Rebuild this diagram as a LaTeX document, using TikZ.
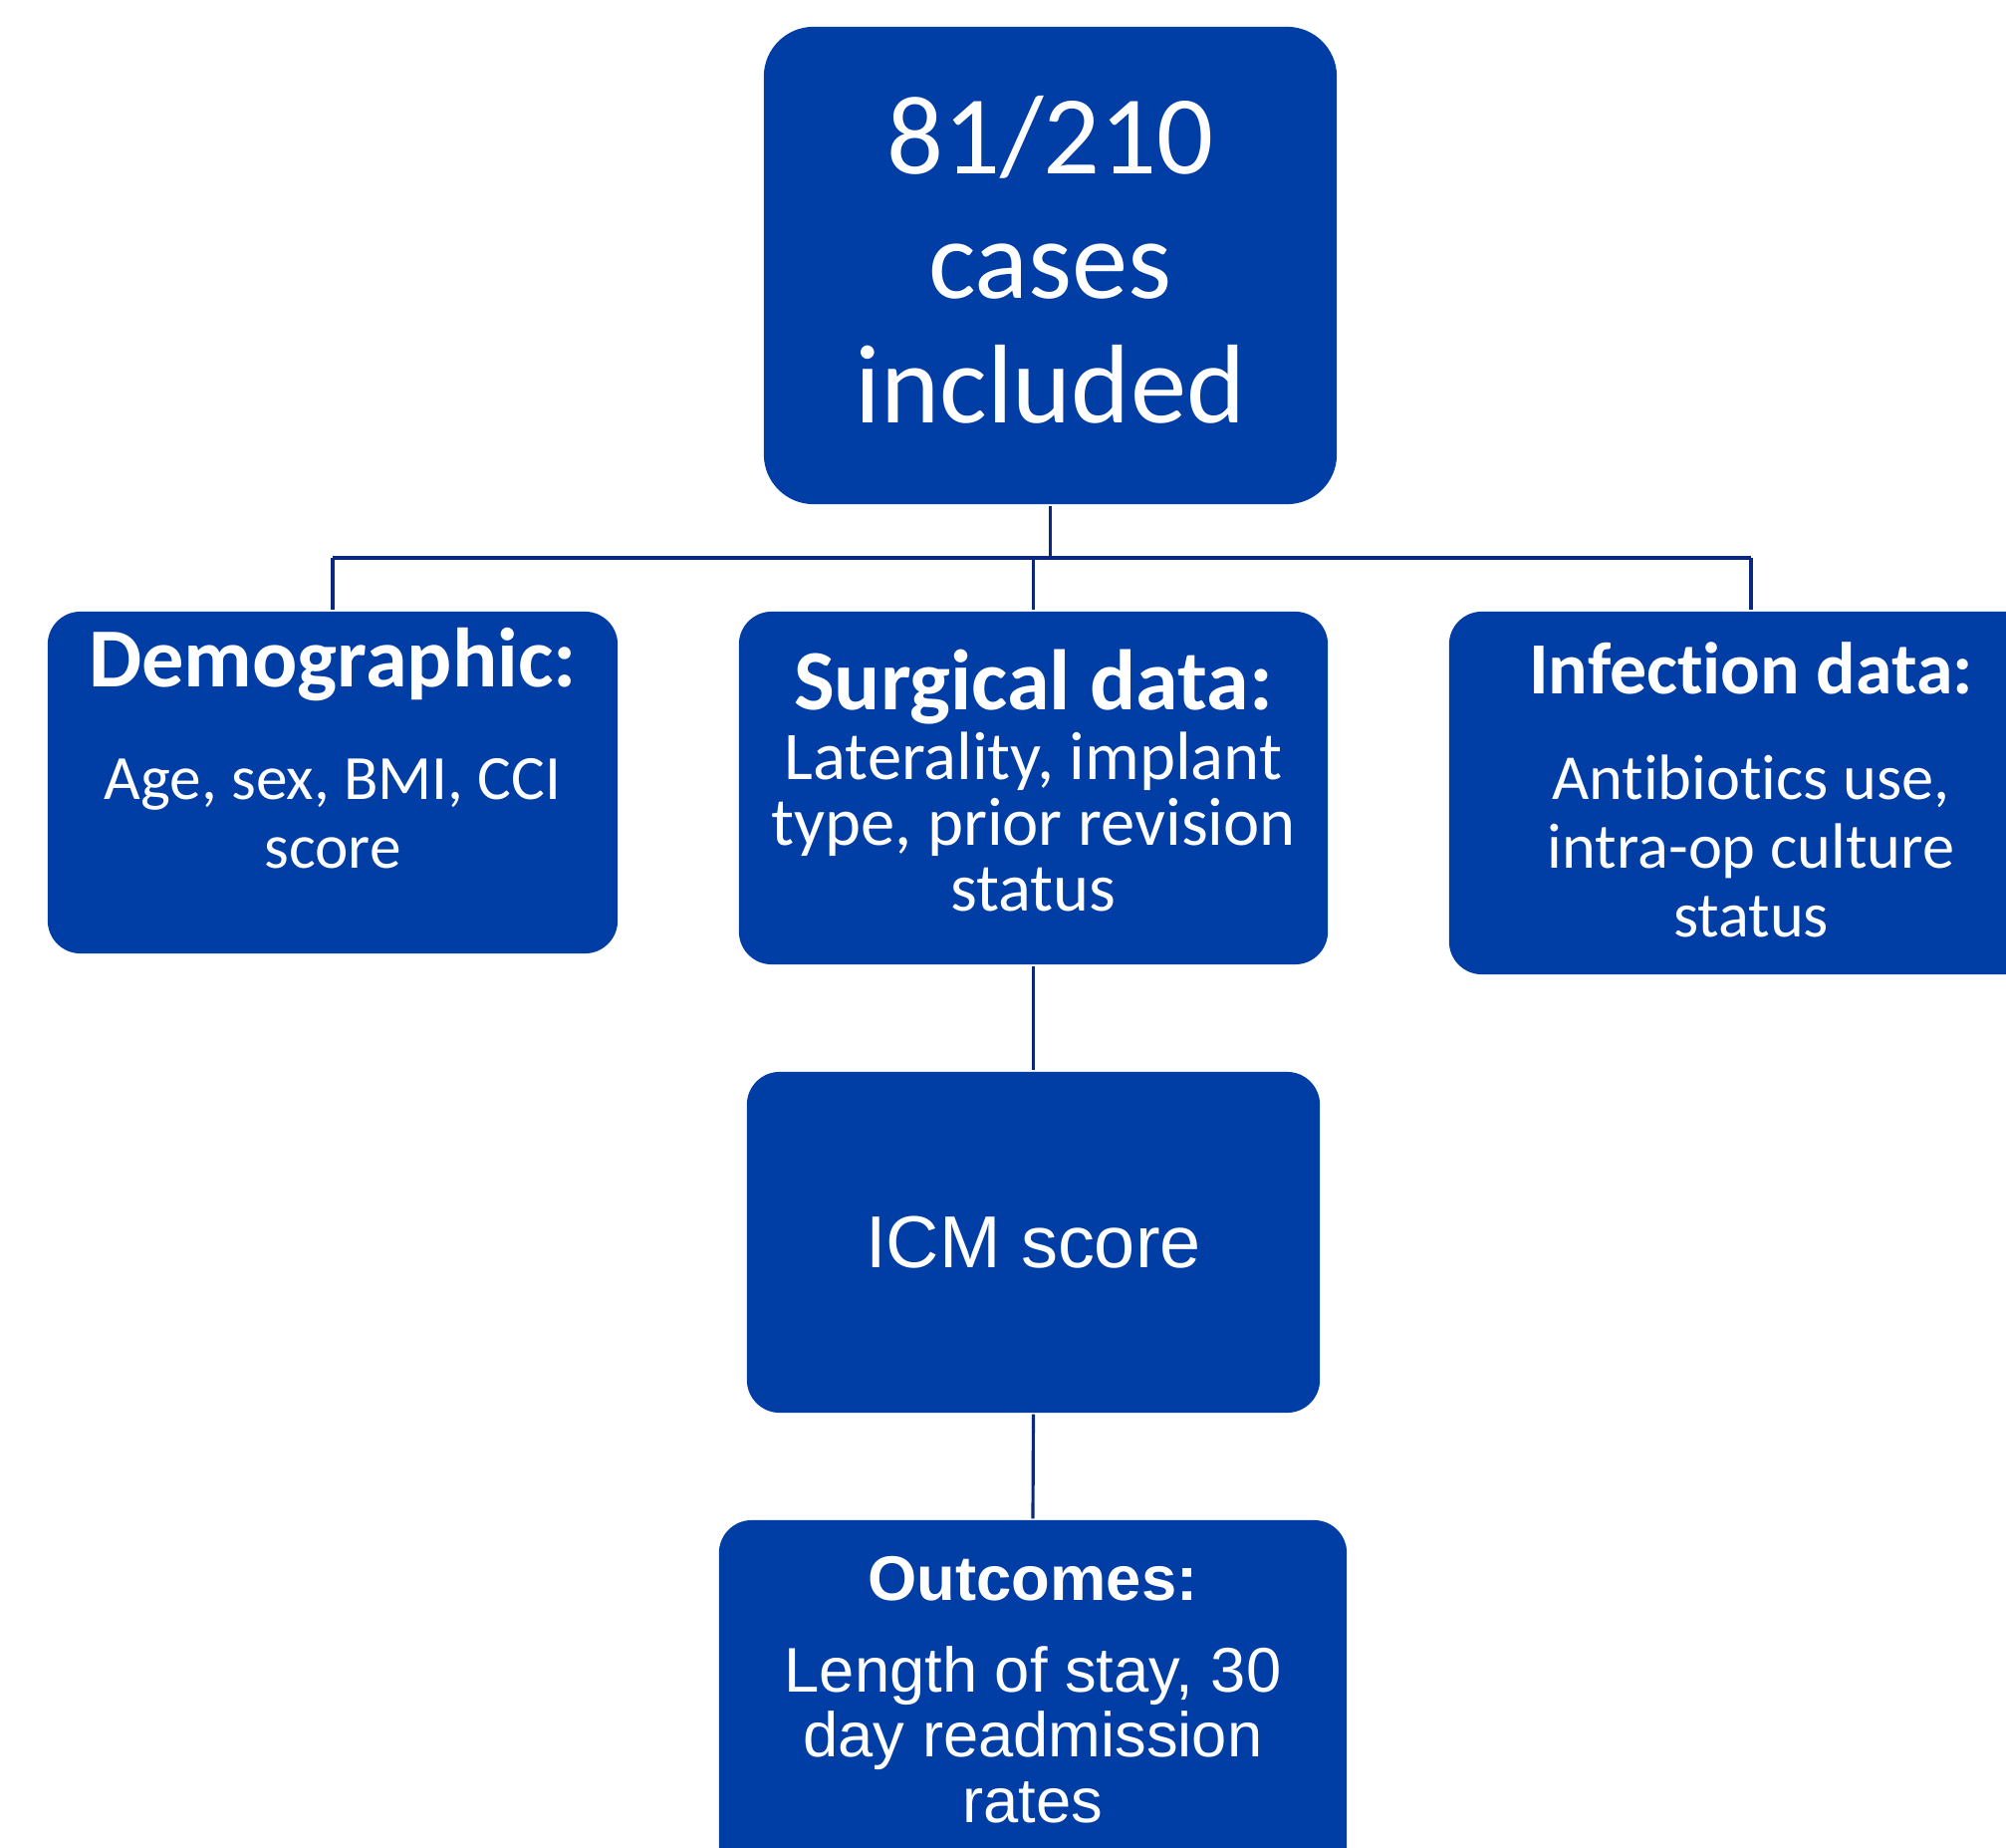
\documentclass[tikz,border=0pt]{standalone}
\usepackage{fontspec}
\setmainfont[Ligatures=NoCommon,RawFeature=-calt]{Carlito}
\newfontfamily\arialfont{Liberation Sans}
\usepackage{xcolor}
\definecolor{boxblue}{RGB}{0,61,165}
\definecolor{linkblue}{RGB}{10,40,125}

\begin{document}
\begin{tikzpicture}[x=0.01cm,y=-0.01cm,-,line width=0.9pt,
    box node/.style={draw=none,fill=boxblue,rounded corners=0.33cm,inner sep=0pt},
    txt node/.style={text=white,align=center,anchor=base,inner sep=0pt},
    link/.style={draw=linkblue}]

    \clip (0,0) rectangle (2014,1855);

    % boxes
    \node[box node,minimum width=5.75cm,minimum height=4.79cm,rounded corners=0.5cm] (cases) at (1054.5,266.5) {};
    \node[box node,minimum width=5.72cm,minimum height=3.43cm] (demo) at (334,785.5) {};
    \node[box node,minimum width=5.91cm,minimum height=3.54cm] (surg) at (1037.5,791) {};
    \node[box node,minimum width=6.06cm,minimum height=3.64cm] (infect) at (1758,796) {};
    \node[box node,minimum width=5.75cm,minimum height=3.42cm] (icm) at (1037.5,1247) {};
    \node[box node,minimum width=6.30cm,minimum height=3.60cm] (outc) at (1037,1706) {};

    % texts (base = baseline of the last line)
    \node[txt node,font=\fontsize{32}{35.6}\selectfont] (casestxt) at (1054.5,425) {81/210\\cases\\included};

    \node[txt node,font=\fontsize{24}{26}\selectfont\bfseries] (demotitle) at (334,690) {Demographic:};
    \node[txt node,font=\fontsize{18}{19.9}\selectfont] (demotxt) at (334,872) {Age, sex, BMI, CCI\\score};

    \node[txt node,font=\fontsize{24.5}{26}\selectfont\bfseries] (surgtitle) at (1037.5,712) {Surgical data:};
    \node[txt node,font=\fontsize{19.5}{18.8}\selectfont] (surgtxt) at (1037.5,915) {Laterality, implant\\type, prior revision\\status};

    \node[txt node,font=\fontsize{21}{23}\selectfont\bfseries] (infecttitle) at (1758,697) {Infection data:};
    \node[txt node,font=\fontsize{18.3}{19.6}\selectfont] (infecttxt) at (1758,940) {Antibiotics use,\\intra-op culture\\status};

    \node[txt node,font=\arialfont\fontsize{21}{24}\selectfont] (icmtxt) at (1037.5,1272) {ICM score};

    \node[txt node,font=\arialfont\fontsize{18}{20}\selectfont\bfseries] (outctitle) at (1037,1606) {Outcomes:};
    \node[txt node,font=\arialfont\fontsize{18}{18.6}\selectfont] (outctxt) at (1037,1829) {Length of stay, 30\\day readmission\\rates};

    % connectors
    \coordinate (bus) at (1054.5,560);
    \path[link]
        (cases.south) edge (bus)
        (demo.north) edge (demo.north |- bus)
        (infect.north) edge (infect.north |- bus)
        (surg.north) edge (surg.north |- bus)
        (surg.south) edge (icm.north)
        (icm.south) edge (outc.north)
    ;
    \draw[link] (demo.north |- bus) -- (infect.north |- bus);
\end{tikzpicture}
\end{document}
